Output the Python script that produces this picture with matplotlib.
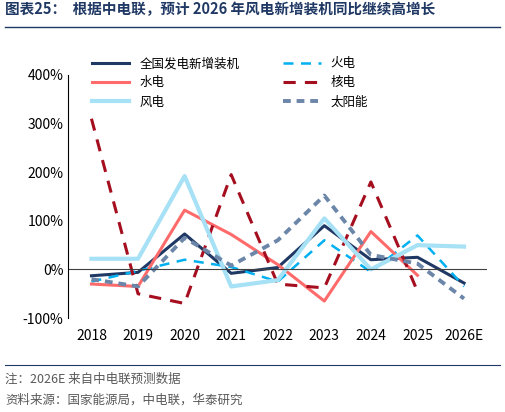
import matplotlib.pyplot as plt
import matplotlib.ticker as ticker

plt.rcParams['font.family'] = ['Noto Sans CJK SC', 'DejaVu Sans']

years = ['2018', '2019', '2020', '2021', '2022', '2023', '2024', '2025', '2026E']
total = [-13, -6, 73, -8, 4, 90, 20, 25, -28]
thermal = [-25, -3, 20, 5, -25, 60, -5, 70, -35]
hydro = [-30, -35, 122, 72, 10, -65, 78, -12]
nuclear = [310, -50, -70, 195, -30, -38, 180, -45]
wind = [22, 22, 192, -35, -22, 105, 0, 50, 47]
solar = [-20, -35, 65, 8, 60, 152, 30, 12, -60]

fig = plt.figure(figsize=(5.05, 4.12), dpi=100)
ax = fig.add_axes([0.135, 0.228, 0.83, 0.59])
x = list(range(len(years)))

ax.plot(x, total, color='#1f3864', lw=2.2, label='全国发电新增装机')
ax.plot(x, thermal, color='#00b0f0', lw=1.8, ls=(0, (4, 3)), label='火电')
ax.plot(x[:8], hydro, color='#ff6b6b', lw=2.2, label='水电')
ax.plot(x[:8], nuclear, color='#a50e1e', lw=2.2, ls=(0, (4, 3)), label='核电')
ax.plot(x, wind, color='#a6e1f5', lw=3, label='风电')
ax.plot(x, solar, color='#6b86a8', lw=2.8, ls=(0, (2, 1.5)), label='太阳能')

ax.set_xticks(x)
ax.set_xticklabels(years, fontsize=10)
ax.set_ylim(-100, 400)
ax.set_xlim(-0.5, 8.5)
ax.yaxis.set_major_locator(ticker.MultipleLocator(100))
ax.yaxis.set_major_formatter(ticker.FuncFormatter(lambda v, p: f'{int(v)}%'))
ax.tick_params(axis='both', labelsize=10, length=0)
ax.tick_params(axis='x', pad=8)
for s in ['top', 'right', 'bottom']:
    ax.spines[s].set_visible(False)
ax.axhline(0, color='#404040', lw=0.8)
h, l = ax.get_legend_handles_labels()
order = [0, 2, 4, 1, 3, 5]
ax.legend([h[i] for i in order], [l[i] for i in order], ncol=2, loc='upper left',
          bbox_to_anchor=(0.03, 1.12), frameon=False, fontsize=9,
          columnspacing=3.5, handlelength=3, labelspacing=0.5)

fig.text(0.01, 0.965, '图表25：  根据中电联，预计 2026 年风电新增装机同比继续高增长',
         fontsize=10.5, fontweight='bold', color='#1f3864')
fig.add_artist(plt.Line2D([0.01, 0.99], [0.935, 0.935], color='#1f3864', lw=1))
fig.add_artist(plt.Line2D([0.01, 0.99], [0.115, 0.115], color='#1f3864', lw=0.8))
fig.text(0.01, 0.07, '注：2026E 来自中电联预测数据', fontsize=9, color='#595959')
fig.text(0.01, 0.02, '资料来源：国家能源局，中电联，华泰研究', fontsize=9, color='#595959')

fig.savefig('out.png', dpi=100)
